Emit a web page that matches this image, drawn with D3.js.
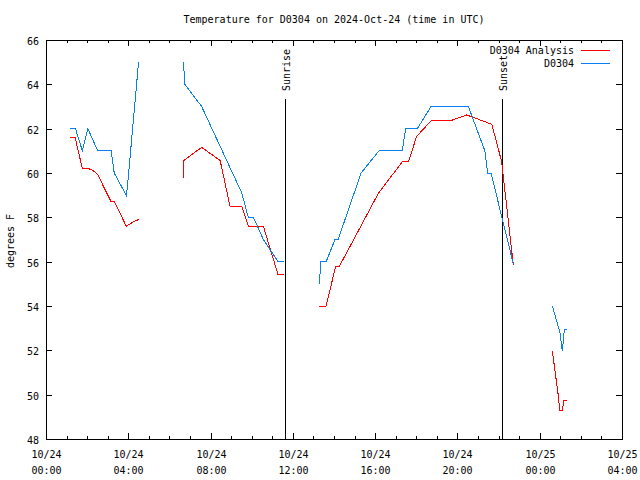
<!DOCTYPE html>
<html>
<head>
<meta charset="utf-8">
<script src="https://cdn.jsdelivr.net/npm/d3@7"></script>
<style>
  body { margin: 0; background: #fff; }
  svg { font-family: "DejaVu Sans Mono", monospace; font-size: 10px; }
</style>
</head>
<body>
<svg id="chart" width="640" height="480"></svg>
<script>
// times are minutes after 2024-10-24 00:00 UTC, null = gap in the record
var analysisTimes = [70, 85, 106, 124, 138, 150, 190, 200, 234, 255, 270, null,
  401, 402, 454, 508, 537, 571, 590, 634, 677, 694, null,
  797, 817, 845, 856, 970, 1039, 1057, 1081, 1123, 1178, 1227, 1300, 1315, 1329, 1363, null,
  1477, 1496, 1497, 1506, 1511, 1519];
var analysisTemps = [61.6, 61.6, 60.2, 60.2, 60.1, 59.95, 58.7, 58.7, 57.6, 57.8, 57.9, null,
  59.76, 60.56, 61.16, 60.56, 58.48, 58.48, 57.6, 57.6, 55.4, 55.4, null,
  54.0, 54.0, 55.8, 55.8, 59.1, 60.5, 60.5, 61.65, 62.35, 62.35, 62.62, 62.2, 61.35, 60.5, 55.85, null,
  51.95, 49.75, 49.3, 49.3, 49.75, 49.75];

var obsTimes = [70, 86, 106, 122, 151, 190, 199, 234, 237, 270, null,
  401, 405, 454, 571, 590, 605, 634, 677, 694, null,
  797, 802, 817, 843, 852, 919, 971, 1039, 1049, 1083, 1123, 1232, 1280, 1288, 1298, 1363, null,
  1477, 1499, 1506, 1512, 1519];
var obsTemps = [62.0, 62.0, 61.0, 62.0, 61.0, 61.0, 60.0, 59.0, 59.3, 65.0, null,
  65.0, 64.0, 63.0, 59.1, 58.0, 58.0, 57.0, 56.0, 56.0, null,
  55.0, 56.0, 56.0, 57.0, 57.0, 60.0, 61.0, 61.0, 62.0, 62.0, 63.0, 63.0, 61.0, 60.0, 60.0, 55.9, null,
  54.0, 52.8, 51.95, 52.95, 52.95];

var markerNames = ["Sunrise", "Sunset"];
var markerTimes = [697, 1330];

var seriesNames = ["D0304 Analysis", "D0304"];
var seriesColors = ["#ff0000", "#0a80f0"];
var yTicks = [48, 50, 52, 54, 56, 58, 60, 62, 64, 66];

var t0 = Date.UTC(2024, 9, 24, 0, 0);
function toDate(m) { return new Date(t0 + m * 60000); }

var svg = d3.select("#chart");
var plotLeft = 46, plotRight = 622, plotTop = 40, plotBottom = 439;

var x = d3.scaleUtc().domain([toDate(0), toDate(28 * 60)]).range([plotLeft, plotRight]);
var y = d3.scaleLinear().domain([48, 66]).range([plotBottom, plotTop]);

function pairs(times, temps) {
  return times.map(function(t, i) { return t === null ? null : [toDate(t), temps[i]]; });
}

// frame
svg.append("rect")
  .attr("x", plotLeft + 0.5).attr("y", plotTop + 0.5)
  .attr("width", plotRight - plotLeft).attr("height", plotBottom - plotTop)
  .attr("fill", "none").attr("stroke", "#000")
  .attr("shape-rendering", "crispEdges");

var g = svg.append("g").attr("shape-rendering", "crispEdges");

// y ticks, both sides, inward
yTicks.forEach(function(v) {
  var yy = Math.round(y(v)) + 0.5;
  g.append("line").attr("x1", plotLeft).attr("x2", plotLeft + 6).attr("y1", yy).attr("y2", yy).attr("stroke", "#000");
  g.append("line").attr("x1", plotRight - 6).attr("x2", plotRight).attr("y1", yy).attr("y2", yy).attr("stroke", "#000");
  svg.append("text").attr("x", 39).attr("y", yy + 4).attr("text-anchor", "end").text(v);
});

// x ticks every hour, labels every 4 hours
var hours = d3.utcHour.range(toDate(0), toDate(28 * 60 + 1));
hours.forEach(function(d) {
  var xx = Math.round(x(d)) + 0.5;
  var major = d.getUTCHours() % 4 === 0;
  var len = major ? 6 : 3;
  g.append("line").attr("x1", xx).attr("x2", xx).attr("y1", plotBottom).attr("y2", plotBottom - len).attr("stroke", "#000");
  g.append("line").attr("x1", xx).attr("x2", xx).attr("y1", plotTop).attr("y2", plotTop + len).attr("stroke", "#000");
  if (major) {
    var t = svg.append("text").attr("text-anchor", "middle");
    t.append("tspan").attr("x", xx).attr("y", 458).text(d3.utcFormat("%m/%d")(d));
    t.append("tspan").attr("x", xx).attr("y", 474).text(d3.utcFormat("%H:%M")(d));
  }
});

// sunrise / sunset
markerNames.forEach(function(name, i) {
  var xx = Math.round(x(toDate(markerTimes[i]))) + 0.5;
  g.append("line").attr("x1", xx).attr("x2", xx).attr("y1", 99).attr("y2", plotBottom).attr("stroke", "#000");
  svg.append("text")
    .attr("transform", "translate(" + (xx + 4) + ",91) rotate(-90)")
    .text(name);
});

// data lines, drawn aliased like the original png
var line = d3.line()
  .defined(function(d) { return d !== null; })
  .x(function(d) { return x(d[0]); })
  .y(function(d) { return y(d[1]); });

[pairs(analysisTimes, analysisTemps), pairs(obsTimes, obsTemps)].forEach(function(data, i) {
  svg.append("path").datum(data)
    .attr("d", line)
    .attr("fill", "none")
    .attr("stroke", seriesColors[i])
    .attr("stroke-width", 1)
    .attr("shape-rendering", "crispEdges");
});

// legend
seriesNames.forEach(function(name, i) {
  var yy = 50 + i * 13;
  svg.append("text").attr("x", 574).attr("y", yy + 4).attr("text-anchor", "end").text(name);
  svg.append("line").attr("x1", 581).attr("x2", 610).attr("y1", yy + 0.5).attr("y2", yy + 0.5)
    .attr("stroke", seriesColors[i]).attr("shape-rendering", "crispEdges");
});

// title and y label
svg.append("text").attr("x", 334).attr("y", 23).attr("text-anchor", "middle")
  .text("Temperature for D0304 on 2024-Oct-24 (time in UTC)");
svg.append("text").attr("transform", "translate(14,241) rotate(-90)")
  .attr("text-anchor", "middle").text("degrees F");
</script>
</body>
</html>
